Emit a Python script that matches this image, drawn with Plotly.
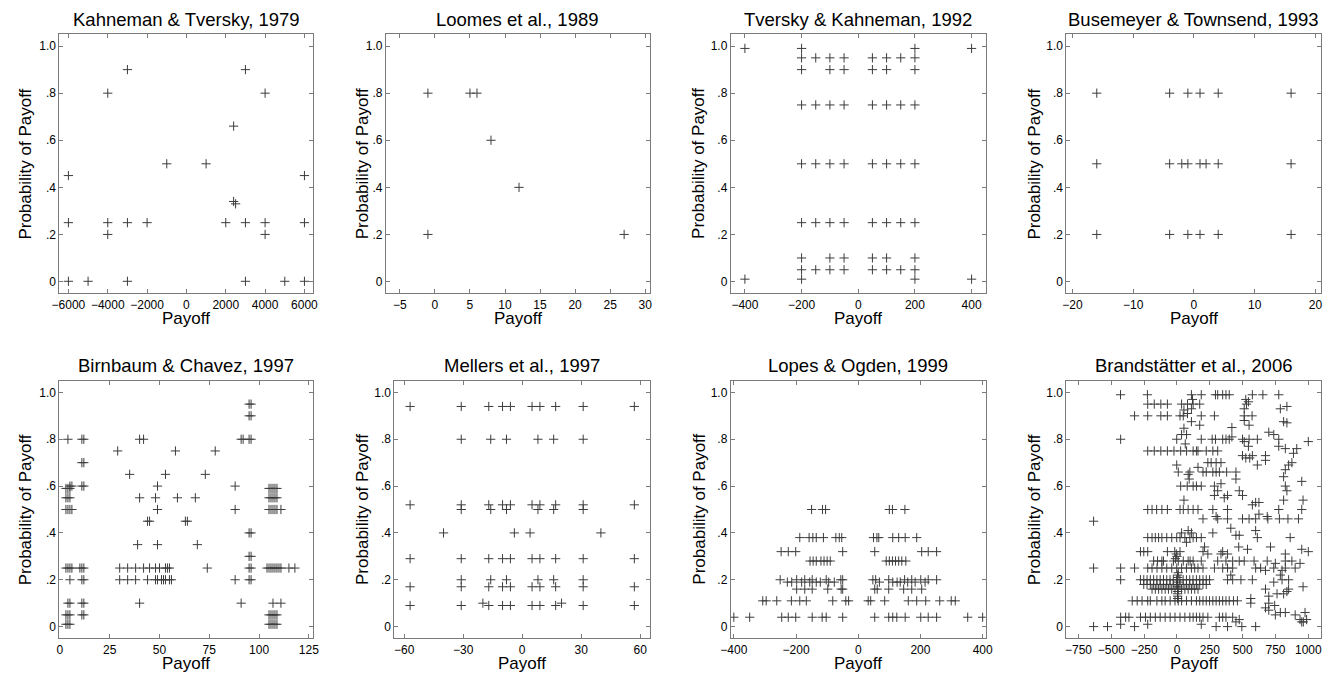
import plotly.graph_objects as go

# ------------------------------------------------------------------
# DATA  (each panel: rows of (probability, [payoffs]))
# ------------------------------------------------------------------
kt1979_rows = [
    (0.90, [-3000, 3000]),
    (0.80, [-4000, 4000]),
    (0.66, [2400]),
    (0.50, [-1000, 1000]),
    (0.45, [-6000, 6000]),
    (0.34, [2400]),
    (0.33, [2500]),
    (0.25, [-6000, -4000, -3000, -2000, 2000, 3000, 4000, 6000]),
    (0.20, [-4000, 4000]),
    (0.001, [-6000, -5000, -3000, 3000, 5000, 6000]),
]

loomes1989_rows = [
    (0.80, [-1, 5, 6]),
    (0.60, [8]),
    (0.40, [12]),
    (0.20, [-1, 27]),
]

tk1992_rows = [
    (0.99, [-400, -200, 200, 400]),
    (0.95, [-200, -150, -100, -50, 50, 100, 150, 200]),
    (0.90, [-200, -100, -50, 50, 100, 200]),
    (0.75, [-200, -150, -100, -50, 50, 100, 150, 200]),
    (0.50, [-200, -150, -100, -50, 50, 100, 150, 200]),
    (0.25, [-200, -150, -100, -50, 50, 100, 150, 200]),
    (0.10, [-200, -100, -50, 50, 100, 200]),
    (0.05, [-200, -150, -100, -50, 50, 100, 150, 200]),
    (0.01, [-400, -200, 200, 400]),
]

bt1993_rows = [
    (0.80, [-16, -4, -1, 1, 4, 16]),
    (0.50, [-16, -4, -2, -1, 1, 2, 4, 16]),
    (0.20, [-16, -4, -1, 1, 4, 16]),
]

bc1997_rows = [
    (0.95, [95, 96]),
    (0.90, [95, 96]),
    (0.80, [4, 11, 12, 40, 42, 91, 92, 95, 96]),
    (0.75, [29, 58, 78]),
    (0.70, [11, 12]),
    (0.65, [35, 53, 73]),
    (0.60, [5, 6, 11, 12, 49, 88]),
    (0.59, [3, 4, 5, 105, 106, 107, 108, 109]),
    (0.55, [3, 4, 5, 40, 48, 59, 68, 105, 106, 107, 108, 109]),
    (0.50, [3, 4, 5, 6, 49, 88, 105, 106, 107, 108, 109, 111]),
    (0.45, [44, 45, 63, 64]),
    (0.40, [95, 96]),
    (0.35, [39, 49, 69]),
    (0.30, [95, 96]),
    (0.25, [3, 4, 5, 6, 10, 11, 12, 30, 34, 38, 42, 45, 48, 50, 53, 54, 55, 74,
            95, 96, 104, 105, 106, 107, 108, 109, 110, 111, 115, 118]),
    (0.20, [5, 11, 12, 30, 34, 38, 44, 48, 49, 51, 52, 53, 55, 56, 88, 95, 96]),
    (0.10, [4, 5, 11, 12, 40, 91, 107, 111]),
    (0.05, [3, 4, 5, 11, 12, 105, 106, 107, 108, 109]),
    (0.01, [3, 4, 5, 105, 106, 107, 108, 109]),
]

mellers1997_rows = [
    (0.94, [-57, -31, -17, -10, -6, 5, 9, 17, 31, 57]),
    (0.80, [-31, -16, -8, 8, 16, 31]),
    (0.52, [-57, -31, -17, -10, -6, 5, 9, 17, 31, 57]),
    (0.50, [-31, -16, -8, 8, 16, 31]),
    (0.40, [-40, -4, 4, 40]),
    (0.29, [-57, -31, -17, -10, -6, 5, 9, 17, 31, 57]),
    (0.20, [-31, -16, -8, 8, 16, 31]),
    (0.17, [-57, -31, -17, -10, -6, 5, 9, 17, 31, 57]),
    (0.10, [-20, 20]),
    (0.09, [-57, -31, -17, -10, -6, 5, 9, 17, 31, 57]),
]

lo1999_rows = [
    (0.50, [-150, -115, -105, 100, 110, 150]),
    (0.38, [-188, -158, -146, -135, -112, -72, -61, -53, 49, 60, 66, 111, 130, 151, 188]),
    (0.32, [-248, -225, -201, -50, 53, 204, 225, 252]),
    (0.28, [-155, -145, -135, -120, -110, -100, -90, 90, 100, 110, 120, 130, 140, 153]),
    (0.20, [-251, -198, -172, -148, -103, -56, -50, 47, 56, 98, 149, 172, 201, 225, 252]),
    (0.19, [-228, -214, -182, -156, -135, -122, -95, -77, 68, 111, 125, 135, 159, 183, 215]),
    (0.16, [-198, -172, -148, -98, -55, -50, 53, 61, 98, 146, 172, 204]),
    (0.11, [-307, -296, -262, -215, -188, -167, -82, -40, -31,
            32, 40, 85, 161, 188, 217, 262, 299, 312]),
    (0.04, [-400, -349, -246, -225, -201, -148, -116, -103, -50,
            53, 98, 111, 124, 151, 201, 225, 252, 352, 400]),
]

bra2006_rows = [
    (0.99, [-430, -225, 110, 185, 293, 310, 348, 373, 398, 574, 654, 775]),
    (0.97, [118, 524]),
    (0.96, [544]),
    (0.95, [-223, -173, -123, -73, 35, 80, 123, 173, 529]),
    (0.94, [837]),
    (0.93, [110, 512, 787]),
    (0.925, [53]),
    (0.91, [80]),
    (0.90, [-323, -223, -123, -73, 23, 48, 185, 285, 512, 572]),
    (0.88, [512]),
    (0.875, [110, 812]),
    (0.87, [837]),
    (0.86, [173, 549]),
    (0.85, [418]),
    (0.847, [53]),
    (0.83, [699]),
    (0.82, [35, 73, 737]),
    (0.81, [418]),
    (0.80, [-429, -2, 185, 268, 293, 348, 373, 398, 499, 549, 612, 775]),
    (0.79, [512, 1000]),
    (0.78, [63]),
    (0.77, [544, 775]),
    (0.76, [825, 912]),
    (0.75, [-223, -173, -123, -73, -23, 28, 73, 123, 148, 160, 223, 273, 310]),
    (0.74, [887]),
    (0.73, [499, 574, 674]),
    (0.72, [524, 554]),
    (0.71, [674]),
    (0.70, [235, 260, 298, 335, 875]),
    (0.69, [-2, 612, 850]),
    (0.68, [160]),
    (0.67, [825]),
    (0.66, [10, 98, 198, 223, 273, 298, 323, 378, 449]),
    (0.65, [85]),
    (0.64, [812]),
    (0.63, [93, 449]),
    (0.62, [950]),
    (0.61, [335]),
    (0.60, [28, 78, 123, 148, 185, 285, 825]),
    (0.58, [310, 474, 837]),
    (0.56, [285, 385, 499]),
    (0.55, [360]),
    (0.54, [53, 812, 960]),
    (0.53, [599, 624]),
    (0.52, [574]),
    (0.50, [-223, -190, -155, -115, -73, 23, 48, 85, 123, 160, 273, 385, 775, 950]),
    (0.48, [624]),
    (0.47, [298, 687]),
    (0.46, [198, 310, 385, 499, 549, 599, 692, 780, 845, 925]),
    (0.45, [-635]),
    (0.42, [410]),
    (0.41, [85, 599]),
    (0.40, [35, 110, 273]),
    (0.39, [449, 474]),
    (0.38, [-223, -190, -165, -140, -115, -78, -40, -2, 23, 60, 98, 123, 148, 185, 612, 862]),
    (0.36, [72]),
    (0.34, [210, 470, 712]),
    (0.33, [537, 950]),
    (0.32, [-278, -253, -223, -73, -17, 23, 198, 348, 1000]),
    (0.31, [-5, 235, 335, 385, 825]),
    (0.30, [0]),
    (0.29, [-12]),
    (0.28, [-178, -148, -115, -103, -27, 10, 48, 85, 100, 123, 185, 310, 373, 424,
            474, 512, 587, 687, 825, 875]),
    (0.27, [749, 937]),
    (0.25, [-635, -429, -323, -223, -190, -152, -115, -78, -40, -2, 35, 72, 110, 135,
            160, 198, 285, 348, 385, 424, 599, 637, 737, 825, 900]),
    (0.24, [674, 800]),
    (0.23, [10]),
    (0.22, [5, 410, 787]),
    (0.21, [5]),
    (0.20, [-429, -278, -253, -228, -203, -178, -153, -128, -103, -78, -53, -28, -3,
            22, 47, 72, 97, 122, 148, 173, 198, 223, 248, 385, 424, 487, 574, 800, 850]),
    (0.19, [5, 737]),
    (0.18, [-253, -228, -203, -178, -153, -128, -103, -78, -53, -28, -3, 22, 47, 72,
            97, 122, 148, 173, 198, 223]),
    (0.17, [5, 960]),
    (0.16, [-190, -165, -140, -115, -90, -65, -40, -15, 10, 35, 60, 85, 110, 135, 160,
            674, 850]),
    (0.15, [5, 837]),
    (0.14, [5, 762, 812]),
    (0.13, [5, 699]),
    (0.12, [5, 562]),
    (0.11, [-341, -303, -266, -223, -203, -153, -115, -90, -52, -15, 10, 35, 72, 110,
            148, 173, 198, 223, 248, 273, 298, 323, 348, 373, 398, 430, 460]),
    (0.10, [562, 699]),
    (0.09, [744]),
    (0.08, [674]),
    (0.07, [699]),
    (0.06, [787, 825, 975]),
    (0.05, [749, 900]),
    (0.04, [-429, -391, -366, -278, -240, -203, -165, -128, -90, -52, -15, 23, 60, 98,
            123, 148, 173, 198, 235, 323, 348, 373, 424]),
    (0.03, [474, 937, 987]),
    (0.02, [449, 950, 962]),
    (0.01, [-429, -223, 185]),
    (0.00, [-635, -529, -323, 298, 385, 494, 599]),
]

panel_titles = [
    "Kahneman & Tversky, 1979", "Loomes et al., 1989",
    "Tversky & Kahneman, 1992", "Busemeyer & Townsend, 1993",
    "Birnbaum & Chavez, 1997", "Mellers et al., 1997",
    "Lopes & Ogden, 1999", "Brandstätter et al., 2006",
]
panel_rows = [kt1979_rows, loomes1989_rows, tk1992_rows, bt1993_rows,
              bc1997_rows, mellers1997_rows, lo1999_rows, bra2006_rows]

x_ranges = [[-6460, 6440], [-7, 30.7], [-450, 450], [-21, 20.9],
            [-0.3, 127.3], [-65, 65], [-410, 410], [-842, 1100]]
x_tickvals = [
    [-6000, -4000, -2000, 0, 2000, 4000, 6000],
    [-5, 0, 5, 10, 15, 20, 25, 30],
    [-400, -200, 0, 200, 400],
    [-20, -10, 0, 10, 20],
    [0, 25, 50, 75, 100, 125],
    [-60, -30, 0, 30, 60],
    [-400, -200, 0, 200, 400],
    [-750, -500, -250, 0, 250, 500, 750, 1000],
]
y_tickvals = [0, 0.2, 0.4, 0.6, 0.8, 1.0]
y_ticktext = ["0", ".2", ".4", ".6", ".8", "1.0"]
x_label = "Payoff"
y_label = "Probability of Payoff"

# ------------------------------------------------------------------
# GEOMETRY (pixels) and STYLE
# ------------------------------------------------------------------
W, H = 1339, 673
boxes = [  # left, right, top, bottom
    (50, 307, 34.3, 293.3), (380.7, 648.3, 34.3, 293.3),
    (730, 988.3, 34.3, 293.3), (1070, 1327.7, 34.3, 293.3),
    (50, 307.3, 380.7, 638.3), (389.3, 648.3, 380.7, 638.3),
    (730, 988.3, 380.7, 638.3), (1070, 1328.3, 380.7, 638.3),
]
ylab_px = [16, 357, 698, 1038, 16, 357, 698, 1038]
title_py = [19] * 4 + [365] * 4
xlab_py = [318.5] * 4 + [663] * 4

FONT = "Liberation Sans, Arial, Helvetica, sans-serif"
AX_COLOR = "#7a7a7a"
MK_COLOR = "#3c3c3c"

fig = go.Figure()
annotations = []
layout_axes = {}

for i in range(8):
    rows = panel_rows[i]
    xs, ys = [], []
    for p, vals in rows:
        for v in vals:
            xs.append(v)
            ys.append(p)
    sfx = "" if i == 0 else str(i + 1)
    fig.add_trace(go.Scatter(
        x=xs, y=ys, mode="markers",
        xaxis="x" + sfx, yaxis="y" + sfx,
        marker=dict(symbol="cross-thin", size=6.6, color=MK_COLOR,
                    line=dict(width=1, color=MK_COLOR)),
        showlegend=False, hoverinfo="x+y",
    ))
    l, r, t, b = boxes[i]
    common = dict(showline=True, linecolor=AX_COLOR, linewidth=1, mirror="ticks",
                  ticks="inside", ticklen=4, tickcolor=AX_COLOR, tickwidth=1,
                  showgrid=False, zeroline=False,
                  tickfont=dict(family=FONT, size=12, color="black"))
    layout_axes["xaxis" + sfx] = dict(
        domain=[l / W, r / W], range=x_ranges[i], tickvals=x_tickvals[i],
        anchor="y" + sfx, **common)
    layout_axes["yaxis" + sfx] = dict(
        domain=[1 - b / H, 1 - t / H], range=[-0.05, 1.05],
        tickvals=y_tickvals, ticktext=y_ticktext,
        anchor="x" + sfx, **common)
    cx = (l + r) / 2 / W
    annotations.append(dict(text=panel_titles[i], x=cx, y=1 - title_py[i] / H,
                            xref="paper", yref="paper", showarrow=False,
                            xanchor="center", yanchor="middle",
                            font=dict(family=FONT, size=18.5, color="black")))
    annotations.append(dict(text=x_label, x=cx, y=1 - xlab_py[i] / H,
                            xref="paper", yref="paper", showarrow=False,
                            xanchor="center", yanchor="middle",
                            font=dict(family=FONT, size=17, color="black")))
    annotations.append(dict(text=y_label, x=ylab_px[i] / W, y=1 - (t + b) / 2 / H,
                            xref="paper", yref="paper", showarrow=False,
                            textangle=-90, xanchor="center", yanchor="middle",
                            font=dict(family=FONT, size=17, color="black")))

fig.update_layout(
    width=W, height=H, margin=dict(l=0, r=0, t=0, b=0),
    paper_bgcolor="white", plot_bgcolor="white",
    annotations=annotations, **layout_axes,
)

fig.write_html("out.html")
